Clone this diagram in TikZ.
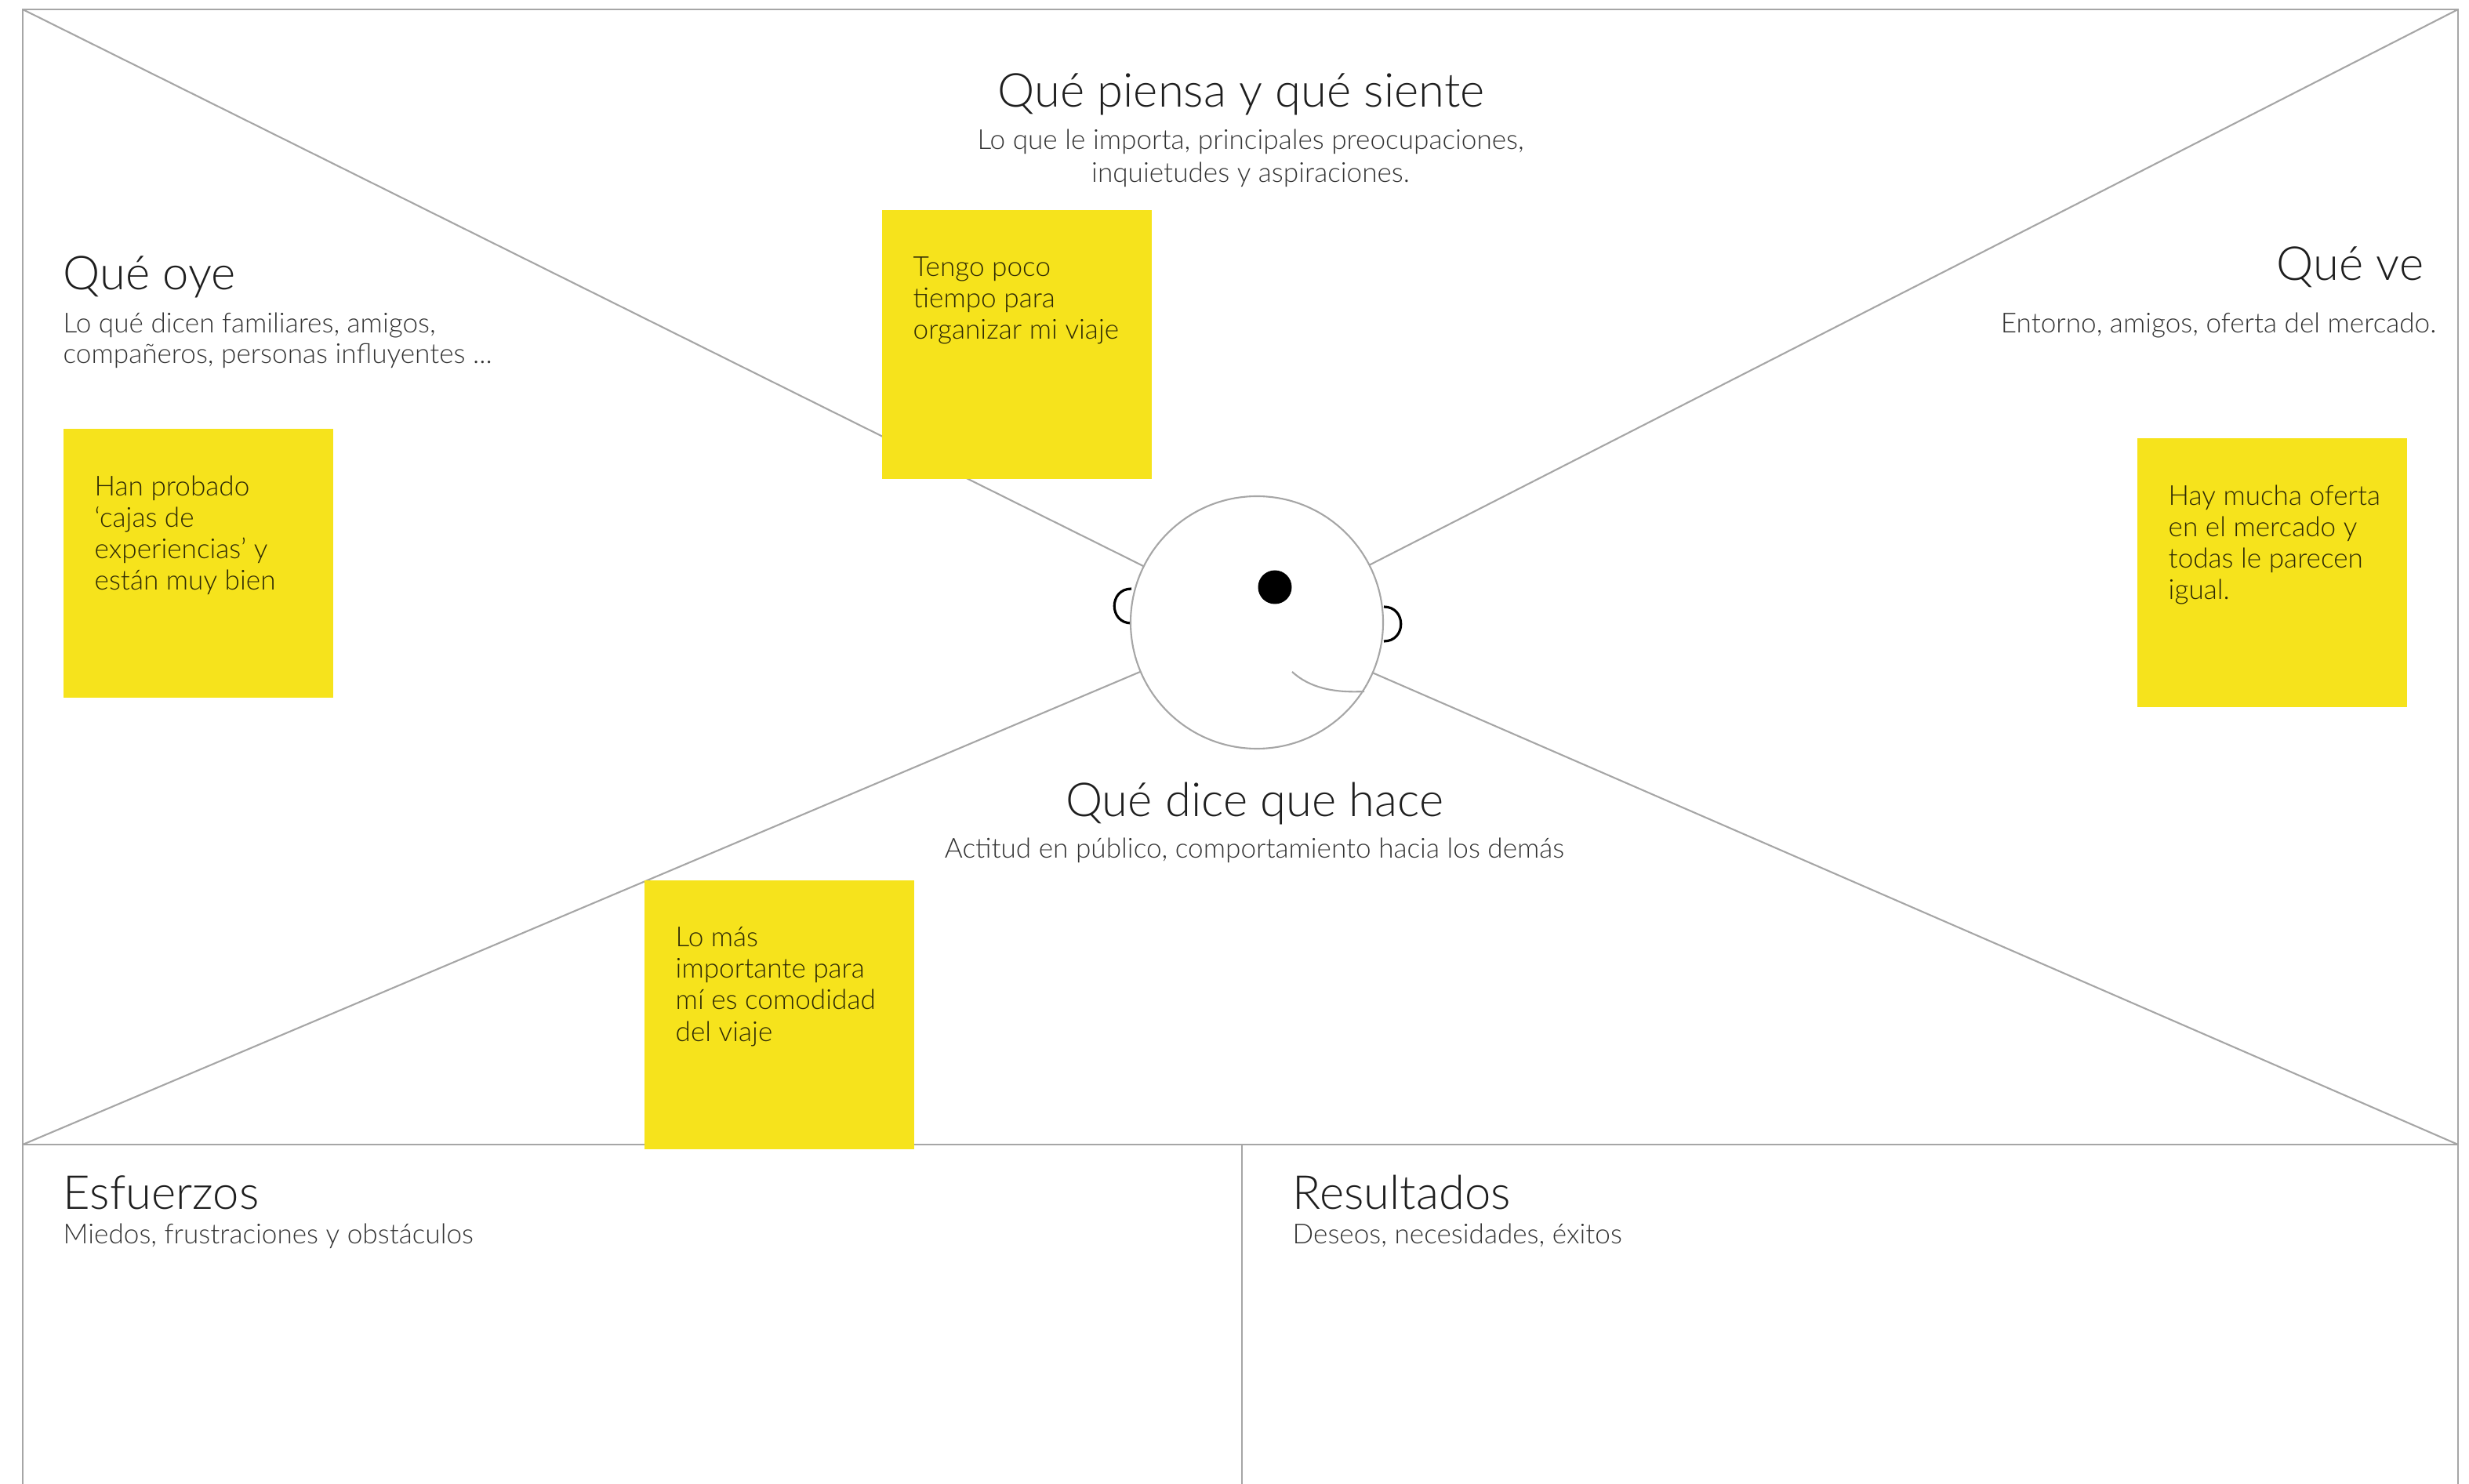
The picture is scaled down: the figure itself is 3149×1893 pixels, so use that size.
\documentclass[tikz,border=0pt]{standalone}
\usepackage{fontspec}
\setmainfont{Lato}[UprightFont={* Light}]
\definecolor{linegray}{HTML}{A6A6A6}
\definecolor{note}{HTML}{F6E31C}
\definecolor{titletext}{HTML}{1E1E1E}
\definecolor{subtext}{HTML}{333333}
\definecolor{notetext}{HTML}{2E2A05}
\tikzset{
  frame/.style={draw=linegray, line width=0.8pt},
  ray/.style={draw=linegray, line width=0.6pt},
  sticky/.style={rectangle, fill=note, anchor=north west, inner sep=0pt,
    minimum width=34.4mm, minimum height=34.3mm},
  notetxt/.style={anchor=north west, inner sep=0pt, align=left, text=notetext,
    font=\fontsize{10}{11.4}\selectfont},
  midtitle/.style={inner sep=0pt, text=titletext, font=\fontsize{17}{20}\selectfont},
  subtitle/.style={inner sep=0pt, text=subtext, font=\fontsize{10}{12}\selectfont},
  ear/.style={draw=black, line width=0.9pt},
}
\begin{document}
\begin{tikzpicture}[x=0.1mm, y=-0.1mm]
\useasboundingbox (0,0) rectangle (3149,1893);
% frame corners
\coordinate (tl) at (29,12);
\coordinate (tr) at (3135,12);
\coordinate (bl) at (29,1460);
\coordinate (br) at (3135,1460);
\coordinate (blow) at (29,1960);
\coordinate (brow) at (3135,1960);
\coordinate (mtop) at (1584,1460);
\coordinate (mbot) at (1584,1960);
% outer frame and dividers
\draw[frame] (blow) -- (tl) -- (tr) -- (brow);
\draw[frame] (bl) -- (br);
\draw[frame] (mtop) -- (mbot);
% face
\node[circle, minimum size=32.2mm, inner sep=0pt] (face) at (1603,794) {};
\draw[ray] (tl) -- (face);
\draw[ray] (tr) -- (face);
\draw[ray] (bl) -- (face);
\draw[ray] (br) -- (face);
% ears
\draw[ear] (1443,751) .. controls (1414,751) and (1414,795) .. (1443,795);
\draw[ear] (1765,774) .. controls (1794,774) and (1794,818) .. (1765,818);
\node[circle, draw=linegray, line width=0.6pt, fill=white, minimum size=32.2mm, inner sep=0pt] at (face.center) {};
% eye and smile
\node[circle, fill=black, minimum size=4.3mm, inner sep=0pt] (eye) at (1626,749) {};
\draw[ray] (1648,857) .. controls (1670,877) and (1700,884) .. (1740,882);
% headings
\node[midtitle, anchor=base] (piensa) at (1583,137) {Qué piensa y qué siente};
\node[subtitle, anchor=base] (piensa1) at (1595,191) {Lo que le importa, principales preocupaciones,};
\node[subtitle, anchor=base] (piensa2) at (1595,233) {inquietudes y aspiraciones.};
\node[midtitle, anchor=base west] (oye) at (80,370) {Qué oye};
\node[subtitle, anchor=base west] (oye1) at (80,425) {Lo qué dicen familiares, amigos,};
\node[subtitle, anchor=base west] (oye2) at (80,464) {compañeros, personas influyentes ...};
\node[midtitle, anchor=base east] (ve) at (3092,358) {Qué ve};
\node[subtitle, anchor=base east] (ve1) at (3108,425) {Entorno, amigos, oferta del mercado.};
\node[midtitle, anchor=base] (dice) at (1600,1042) {Qué dice que hace};
\node[subtitle, anchor=base] (dice1) at (1600,1094) {Actitud en público, comportamiento hacia los demás};
\node[midtitle, anchor=base west] (esf) at (80,1542) {Esfuerzos};
\node[subtitle, anchor=base west] (esf1) at (80,1586) {Miedos, frustraciones y obstáculos};
\node[midtitle, anchor=base west] (res) at (1648,1542) {Resultados};
\node[subtitle, anchor=base west] (res1) at (1648,1586) {Deseos, necesidades, éxitos};
% sticky notes
\node[sticky] (n1) at (1124,267) {};
\node[notetxt] at ([shift={(40,60)}]n1.north west) {Tengo poco\\tiempo para\\organizar mi viaje};
\node[sticky] (n2) at (80,546) {};
\node[notetxt] at ([shift={(40,60)}]n2.north west) {Han probado\\‘cajas de\\experiencias’ y\\están muy bien};
\node[sticky] (n3) at (2725,558) {};
\node[notetxt] at ([shift={(40,60)}]n3.north west) {Hay mucha oferta\\en el mercado y\\todas le parecen\\igual.};
\node[sticky] (n4) at (821,1122) {};
\node[notetxt] at ([shift={(40,60)}]n4.north west) {Lo más\\importante para\\mí es comodidad\\del viaje};
\end{tikzpicture}
\end{document}
